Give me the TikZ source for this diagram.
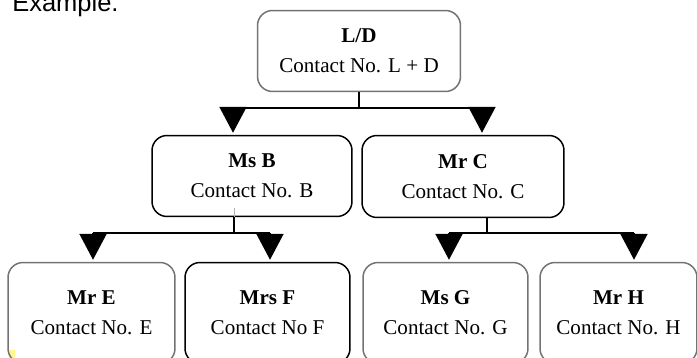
\documentclass[tikz,border=0pt]{standalone}
\usepackage{fontspec}
\setmainfont{Liberation Serif}
\newfontfamily\labelfont{Liberation Sans}
\usetikzlibrary{arrows.meta}

\tikzset{
  person/.style={draw=gray!90!black,line width=0.85pt,rounded corners=0.3cm,
    align=center,inner sep=0pt,font=\fontsize{12}{17}\selectfont},
  link/.style={line width=1.1pt},
  head/.style={line width=1.1pt,shorten >=0.04cm,
    -{Triangle[length=14.7pt,width=15.3pt]}},
}

\begin{document}
\begin{tikzpicture}[x=0.02cm,y=-0.02cm]
\useasboundingbox (0,0) rectangle (697,358);
\clip (0,0) rectangle (697,358);

\node[anchor=base west,inner sep=0pt,font=\labelfont\fontsize{14.5}{17}\selectfont] (title) at (12,12) {Example.};
\fill[yellow!45] (9,350) rectangle (15,358);

%top
\node[person,minimum width=4.06cm,minimum height=1.62cm] (LD) at (359,51) {\textbf{L/D}\\Contact No. L + D};

%second row
\node[person,draw=black,minimum width=4cm,minimum height=1.62cm] (B) at (252,176) {\textbf{Ms B}\\Contact No. B};
\node[person,draw=black,minimum width=4.04cm,minimum height=1.64cm] (C) at (463,176.5) {\textbf{Mr C}\\Contact No. C};

%third row
\node[person,minimum width=3.34cm,minimum height=2.02cm] (E) at (91.5,313) {\textbf{Mr E}\\Contact No. E};
\node[person,draw=black,minimum width=3.3cm,minimum height=2.02cm] (F) at (267.5,313) {\textbf{Mrs F}\\Contact No F};
\node[person,minimum width=3.3cm,minimum height=2.02cm] (G) at (445.5,313) {\textbf{Ms G}\\Contact No. G};
\node[person,minimum width=3.14cm,minimum height=2.02cm] (H) at (618.5,313) {\textbf{Mr H}\\Contact No. H};

%L/D to B and C
\coordinate (jB) at (233,108);
\coordinate (jC) at (482,108);
\draw[link] (LD.south) -- (LD.south |- jB);
\draw[link] (jB) -- (jC);
\draw[head] (jB) -- (jB |- B.north);
\draw[head] (jC) -- (jC |- C.north);

%B to E and F
\coordinate (jBE) at (234,233);
\coordinate (jE) at (93,233);
\coordinate (jF) at (270,233);
\draw[gray!60,thin] (jBE |- 0,208) -- (jBE |- B.south);
\draw[link] (jBE |- B.south) -- (jBE);
\draw[link] (jE) -- (jF);
\draw[head] (jE) -- (jE |- E.north);
\draw[head] (jF) -- (jF |- F.north);

%C to G and H
\coordinate (jCG) at (487,233);
\coordinate (jG) at (449,233);
\coordinate (jH) at (634,233);
\draw[link] (jCG |- C.south) -- (jCG);
\draw[link] (jG) -- (jH);
\draw[head] (jG) -- (jG |- G.north);
\draw[head] (jH) -- (jH |- H.north);
\end{tikzpicture}
\end{document}
